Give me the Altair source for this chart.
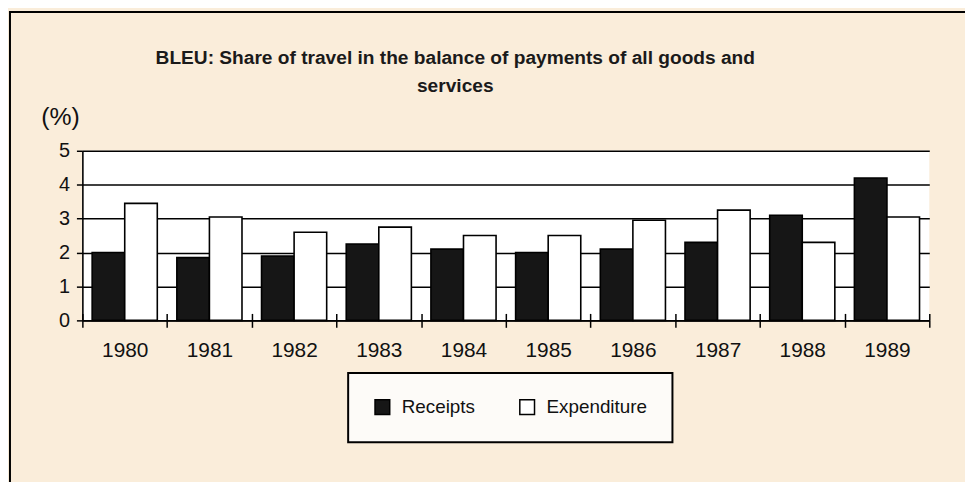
import altair as alt
import pandas as pd

years = ["1980", "1981", "1982", "1983", "1984", "1985", "1986", "1987", "1988", "1989"]
receipts = [2.0, 1.85, 1.9, 2.25, 2.1, 2.0, 2.1, 2.3, 3.1, 4.2]
expenditure = [3.45, 3.05, 2.6, 2.75, 2.5, 2.5, 2.95, 3.25, 2.3, 3.05]
series_names = ["Receipts", "Expenditure"]
series_colors = ["#161616", "#ffffff"]
y_ticks = [0, 1, 2, 3, 4, 5]

rows = []
for yr, r, e in zip(years, receipts, expenditure):
    rows.append({"year": yr, "series": "Receipts", "value": r})
    rows.append({"year": yr, "series": "Expenditure", "value": e})
df = pd.DataFrame(rows)

FONT = "Liberation Sans"
x_scale = alt.Scale(paddingInner=0, paddingOuter=0)

bars = alt.Chart(df).mark_bar(stroke="black", strokeWidth=1.6).encode(
    x=alt.X(
        "year:N",
        sort=years,
        scale=x_scale,
        axis=alt.Axis(
            orient="bottom", title=None, labelAngle=0, tickBand="extent", labelFontSize=21,
            labelColor="#111111", tickSize=7, tickWidth=1.5, tickColor="black",
            domainColor="black", domainWidth=1.6, labelPadding=12, grid=False,
        ),
    ),
    xOffset=alt.XOffset(
        "series:N",
        sort=series_names,
        scale=alt.Scale(domain=series_names, paddingOuter=0.3, paddingInner=0),
    ),
    y=alt.Y(
        "value:Q",
        scale=alt.Scale(domain=[0, 5], nice=False),
        axis=alt.Axis(
            values=y_ticks, format="d", title="(%)", titleAngle=0, titleX=-42, titleY=-27,
            titleAlign="left", titleBaseline="alphabetic", titleFontSize=25,
            titleFontWeight="normal", titleColor="#111111", labelFontSize=20,
            labelColor="#111111", tickSize=6, tickWidth=1.5, tickColor="black",
            gridColor="black", gridWidth=1.5, gridOpacity=1, domainColor="black",
            domainWidth=1.6, labelPadding=7,
        ),
    ),
    color=alt.Color(
        "series:N",
        sort=series_names,
        scale=alt.Scale(domain=series_names, range=series_colors),
        legend=alt.Legend(
            orient="none", legendX=268, legendY=224, direction="horizontal",
            title=None, symbolType="square", symbolSize=220,
            symbolStrokeColor="black", symbolStrokeWidth=1.5,
            labelFontSize=19, labelColor="#111111", labelOffset=10,
            columnPadding=42, padding=25, strokeColor="black",
            fillColor="#fdfbf8",
        ),
    ),
)

# upper half of the crossing x-axis ticks (axis drawn slightly inside the plot)
upper_ticks = alt.Chart(df).mark_point(opacity=0).encode(
    x=alt.X(
        "year:N",
        sort=years,
        scale=x_scale,
        axis=alt.Axis(
            orient="bottom", title=None, labels=False, domain=False, grid=False,
            tickBand="extent", tickSize=7, tickWidth=1.5, tickColor="black",
            offset=-7, zindex=1,
        ),
    ),
)

# decorative page frame: left and top edges only (the rest is cut off in the reference)
one = pd.DataFrame({"k": [0]})
frame_left = alt.Chart(one).mark_rule(color="black", strokeWidth=2, clip=False).encode(
    x=alt.value(-73), y=alt.value(-141), y2=alt.value(500)
)
frame_top = alt.Chart(one).mark_rule(color="black", strokeWidth=2, clip=False).encode(
    y=alt.value(-140), x=alt.value(-74), x2=alt.value(1000)
)

chart = alt.layer(frame_left, frame_top, bars, upper_ticks).resolve_axis(x="independent").properties(
    width=854,
    height=171,
    autosize=alt.AutoSizeParams(type="none"),
    padding={"left": 75, "top": 142, "right": 36, "bottom": 161},
    background="#faedda",
    title=alt.Title(
        ["BLEU: Share of travel in the balance of payments of all goods and", "services"],
        fontSize=19.3, fontWeight="bold", font=FONT, anchor="middle", dx=-51,
        offset=-102, lineHeight=28, color="#1a1a1a", baseline="alphabetic",
    ),
).configure(font=FONT).configure_view(strokeWidth=0, fill="white").configure_legend(strokeWidth=2)

chart.save("out.html", embed_options={"renderer": "svg", "actions": False})
